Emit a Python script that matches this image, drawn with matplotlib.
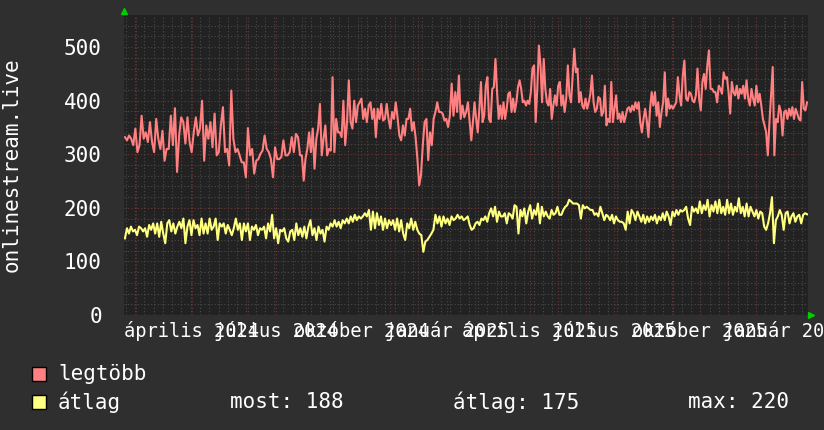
import numpy as np
import pandas as pd
import matplotlib
matplotlib.use("Agg")
import matplotlib.pyplot as plt
import matplotlib.dates as mdates
from matplotlib.patches import Rectangle

plt.rcParams['font.family'] = ['DejaVu Sans Mono']

# the values are read chunk by chunk, each chunk covers the span between two edges
edges = ["2024-01-20", "2024-07-27", "2025-01-26", "2025-07-29", "2026-01-25"]

legtobb_1 = [332, 326, 335, 329, 317, 348, 304, 317, 372, 329, 341, 323, 360, 323, 304, 366,
             329, 310, 344, 288, 310, 310, 372, 317, 386, 267, 335, 369, 360, 320, 369, 323,
             304, 341, 369, 335, 348, 400, 288, 354, 329, 360, 313, 376, 298, 304, 354, 388,
             304, 310, 279, 419, 329, 304, 310, 298, 285, 285, 257, 349, 298, 310, 264, 288,
             291, 301, 307, 335, 310, 304, 291, 257, 313, 291, 291, 295, 326, 298, 298, 304,
             332, 304, 338, 332]
legtobb_2 = [298, 298, 251, 292, 310, 341, 304, 348, 273, 329, 348, 394, 298, 329, 354, 298,
             310, 307, 444, 304, 366, 341, 341, 332, 400, 317, 360, 438, 360, 348, 400, 360,
             391, 397, 404, 366, 385, 360, 391, 397, 366, 385, 332, 385, 366, 394, 363, 366,
             394, 366, 348, 379, 366, 397, 369, 335, 326, 354, 335, 366, 366, 385, 344, 360,
             332, 292, 242, 261, 317, 360, 366, 289, 341, 317, 366, 379, 397, 379, 379, 376,
             363, 366, 351, 372, 432, 372, 416, 379, 447, 366, 391, 369, 379, 397]
legtobb_3 = [360, 326, 360, 397, 366, 341, 385, 435, 360, 372, 428, 444, 366, 360, 422, 425,
             478, 416, 366, 391, 366, 397, 366, 385, 413, 416, 379, 404, 379, 397, 425, 438,
             422, 397, 400, 391, 400, 394, 416, 460, 466, 360, 422, 503, 466, 397, 478, 422,
             397, 391, 422, 366, 391, 410, 391, 428, 435, 391, 410, 379, 404, 466, 410, 397,
             447, 497, 453, 460, 397, 416, 391, 385, 404, 385, 397, 413, 447, 397, 379, 385,
             407, 404, 372, 379, 428, 354, 366, 360, 435, 360, 385, 410, 366, 376, 360, 379,
             360, 372, 385, 388, 379, 391, 382, 397, 385, 397]
legtobb_4 = [360, 341, 366, 385, 363, 332, 385, 416, 391, 416, 372, 397, 351, 379, 397, 453,
             372, 404, 385, 391, 385, 391, 397, 444, 410, 391, 447, 475, 404, 400, 416, 413,
             400, 397, 410, 460, 404, 382, 435, 450, 422, 466, 494, 422, 422, 416, 416, 397,
             428, 422, 413, 453, 441, 444, 416, 376, 435, 416, 410, 428, 404, 422, 413, 428,
             404, 438, 404, 391, 422, 404, 391, 428, 397, 413, 391, 366, 354, 341, 298, 360,
             410, 463, 298, 366, 360, 391, 379, 335, 379, 382, 366, 385, 372, 388, 366, 385,
             376, 366, 363, 435, 385, 382, 397]

atlag_1 = [143, 162, 152, 165, 156, 159, 149, 165, 162, 156, 162, 146, 168, 159, 171, 152,
           171, 146, 174, 152, 134, 171, 177, 156, 171, 152, 165, 174, 162, 180, 134, 165,
           177, 149, 177, 162, 168, 149, 180, 152, 171, 152, 180, 159, 165, 180, 140, 171,
           165, 171, 152, 168, 159, 149, 162, 180, 159, 171, 140, 171, 156, 171, 140, 165,
           159, 168, 149, 162, 159, 165, 143, 171, 156, 187, 143, 162, 134, 159, 156, 162,
           143, 137, 156, 159, 140, 171, 149, 162, 146, 165, 143, 165, 177, 149, 162, 140,
           165, 152, 159, 137, 165, 159, 171, 165, 177, 165, 174, 162, 177, 171, 180, 171,
           184, 174, 187, 177, 184, 180, 184, 190, 184, 196, 159, 193, 162, 190, 168, 184,
           159, 180, 162, 177, 168, 177, 159, 180, 156, 177, 152, 140, 171, 162, 180, 159,
           174, 159, 152, 149, 118, 137, 140, 146, 152, 159, 187, 171, 184, 165, 184, 171,
           180, 168, 184, 177, 180, 187, 180, 184, 177, 180, 184]
atlag_2 = [168, 159, 162, 171, 174, 168, 180, 177, 184, 174, 190, 199, 184, 202, 174, 193,
           184, 184, 190, 171, 190, 187, 180, 205, 202, 152, 196, 184, 199, 171, 193, 205,
           180, 196, 187, 208, 171, 202, 184, 193, 184, 180, 196, 187, 190, 202, 187, 187,
           196, 202, 205, 215, 212, 208, 208, 208, 205, 180, 205, 199, 202, 199, 196, 196,
           187, 190, 184, 202, 190, 177, 187, 184, 177, 187, 171, 184, 177, 174, 174, 171,
           159, 193, 171, 196, 190, 177, 193, 184, 174, 187, 171, 184, 174, 184, 177, 187,
           171, 184, 177, 190, 177, 193, 184, 168, 193, 184, 196, 187, 196, 193, 196, 202,
           180, 168, 202, 193, 199, 190, 212, 190, 205, 196, 215, 184, 205, 193, 212, 190,
           215, 190, 202, 187, 215, 190, 208, 187, 202, 193, 218, 190, 202, 184, 208, 184,
           202, 193, 184, 196, 180, 193, 190, 165, 159, 171, 190, 220, 134, 177, 184, 196,
           187, 159, 190, 193, 171, 184, 190, 174, 184, 187, 171, 187, 190, 188]

tick_dates = ["2024-04-01", "2024-07-01", "2024-10-01", "2025-01-01",
              "2025-04-01", "2025-07-01", "2025-10-01", "2026-01-01"]
tick_labels = ["április 2024", "július 2024", "október 2024", "január 2025",
               "április 2025", "július 2025", "október 2025", "január 2026"]
y_ticks = [0, 100, 200, 300, 400, 500]

most, atl, maxi = 188, 175, 220

BACK = "#2f2f2f"
CANVAS = "#222222"
GRID = "#4a4a4a"
MGRID = "#6e3434"
RED = "#ff8080"
YELLOW = "#ffff80"


def spread(chunks, bounds):
    """dátum + érték sorozat a darabokból"""
    xs, ys = [], []
    for i, vals in enumerate(chunks):
        a = pd.Timestamp(bounds[i])
        b = pd.Timestamp(bounds[i + 1])
        last = i == len(chunks) - 1
        d = pd.date_range(a, b, periods=len(vals) + (0 if last else 1))
        xs.extend(d[:len(vals)])
        ys.extend(vals)
    return xs, ys


fig = plt.figure(figsize=(8.24, 4.30), dpi=100, facecolor=BACK)
ax = fig.add_axes([124 / 824, 1 - 315 / 430, 684 / 824, 300 / 430])
ax.set_facecolor(CANVAS)

x0, x1 = pd.Timestamp("2024-01-19"), pd.Timestamp("2026-01-26")
ax.set_xlim(x0, x1)
ax.set_ylim(0, 560)

# rács
for v in range(20, 560, 20):
    if v % 100:
        ax.axhline(v, color=GRID, lw=0.8, ls=(0, (1, 2)), zorder=1)
for d in pd.date_range("2024-01-21", x1, freq="10D"):
    ax.axvline(d, color=GRID, lw=0.8, ls=(0, (1, 2)), zorder=1)
for v in range(100, 600, 100):
    ax.axhline(v, color=MGRID, lw=0.8, ls=(0, (1, 2)), zorder=1.5)
for d in pd.date_range("2024-02-01", x1, freq="MS"):
    ax.axvline(d, color=MGRID, lw=0.8, ls=(0, (1, 2)), zorder=1.5)

xr, yr = spread([legtobb_1, legtobb_2, legtobb_3, legtobb_4], edges)
xa, ya = spread([atlag_1, atlag_2], [edges[0], edges[2], edges[4]])
ax.plot(xr, yr, color=RED, lw=1.5, zorder=3)
ax.plot(xa, ya, color=YELLOW, lw=1.5, zorder=3)

ax.set_xticks(mdates.date2num(pd.to_datetime(tick_dates)))
ax.set_xticklabels(tick_labels, va='baseline')
ax.set_yticks(y_ticks)
ax.set_yticklabels([str(v) for v in y_ticks])
ax.tick_params(axis='both', length=0, colors='white', labelsize=15)
ax.tick_params(axis='x', pad=15.5, labelsize=13.5)
ax.tick_params(axis='y', pad=16)
for s in ax.spines.values():
    s.set_visible(False)

# nyilak
ax.plot([0], [1.012], marker='^', color='#00cc00', ms=5, transform=ax.transAxes,
        clip_on=False, zorder=5)
ax.plot([1.005], [0], marker='>', color='#00cc00', ms=5, transform=ax.transAxes,
        clip_on=False, zorder=5)

fig.text(12 / 824, 1 - 165 / 430, "onlinestream.live", rotation=90, color='white',
         fontsize=15, ha='center', va='center')

# jelmagyarázat
for yy, col in [(374, RED), (402, YELLOW)]:
    fig.patches.append(Rectangle((32 / 824, 1 - (yy + 7) / 430), 14 / 824, 14 / 430,
                                 transform=fig.transFigure, facecolor=col,
                                 edgecolor='black', lw=1))
fig.text(58 / 824, 1 - 374 / 430, "legtöbb", color='white', fontsize=15, va='center')
fig.text(58 / 824, 1 - 402 / 430, "átlag", color='white', fontsize=15, va='center')
fig.text(230 / 824, 1 - 402 / 430, f"most: {most}", color='white', fontsize=15, va='center')
fig.text(453 / 824, 1 - 402 / 430, f"átlag: {atl}", color='white', fontsize=15, va='center')
fig.text(688 / 824, 1 - 402 / 430, f"max: {maxi}", color='white', fontsize=15, va='center')

fig.savefig("out.png", dpi=100, facecolor=BACK)
